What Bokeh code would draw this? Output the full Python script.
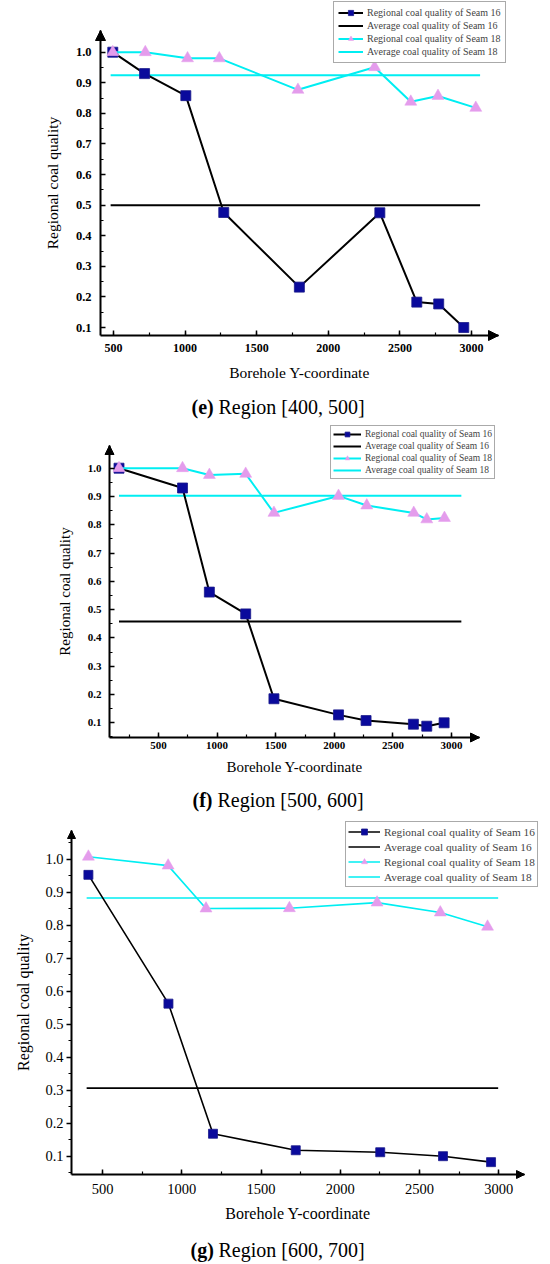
from bokeh.plotting import figure
from bokeh.layouts import column
from bokeh.models import (Range1d, SingleIntervalTicker, PrintfTickFormatter, Legend,
                          LegendItem, Arrow, NormalHead, Label)
from bokeh.embed import file_html
from bokeh.resources import INLINE

# ---------------- data ----------------
# (e) Region [400, 500]
e_s16_x = [495, 717, 1005, 1270, 1798, 2360, 2618, 2771, 2946]
e_s16_y = [1.000, 0.930, 0.858, 0.476, 0.232, 0.475, 0.183, 0.177, 0.100]
e_s18_x = [495, 722, 1017, 1239, 1788, 2323, 2576, 2766, 3030]
e_s18_y = [1.000, 1.000, 0.980, 0.980, 0.877, 0.951, 0.838, 0.857, 0.818]
e_avg16 = 0.500
e_avg18 = 0.925
e_avg_span = [480, 3060]

# (f) Region [500, 600]
f_s16_x = [163, 705, 934, 1244, 1485, 2036, 2271, 2675, 2789, 2937]
f_s16_y = [1.000, 0.930, 0.562, 0.485, 0.185, 0.128, 0.108, 0.095, 0.088, 0.100]
f_s18_x = [163, 705, 934, 1244, 1485, 2036, 2277, 2678, 2789, 2940]
f_s18_y = [1.000, 1.000, 0.976, 0.980, 0.842, 0.902, 0.868, 0.842, 0.819, 0.824]
f_avg16 = 0.458
f_avg18 = 0.903
f_avg_span = [163, 3084]

# (g) Region [600, 700]
g_s16_x = [411, 916, 1197, 1719, 2252, 2648, 2951]
g_s16_y = [0.952, 0.562, 0.168, 0.118, 0.112, 0.100, 0.082]
g_s18_x = [411, 914, 1153, 1679, 2232, 2631, 2929]
g_s18_y = [1.007, 0.980, 0.850, 0.851, 0.868, 0.838, 0.795]
g_avg16 = 0.306
g_avg18 = 0.882
g_avg_span = [400, 2996]

legend_labels = ["Regional coal quality of Seam 16", "Average coal quality of Seam 16",
                 "Regional coal quality of Seam 18", "Average coal quality of Seam 18"]
x_title = "Borehole Y-coordinate"
y_title = "Regional coal quality"
caption_tags = ["(e)", "(f)", "(g)"]
caption_texts = ["Region [400, 500]", "Region [500, 600]", "Region [600, 700]"]

NAVY = "#0a0a9c"
VIOLET = "#e49cec"
CYAN = "#00eef2"
SERIF = "Liberation Serif"
W = 550


def make_panel(cfg):
    T, H = cfg["top"], cfg["height"]
    # pixel anchors -> data ranges (frame covers the whole figure)
    (xa0, xa1) = cfg["xpx"]          # pixel of x=500 and x=3000
    kx = (xa1 - xa0) / 2500.0
    x_start = 500 - xa0 / kx
    x_end = x_start + W / kx
    (ya1, ya0) = cfg["ypx"]          # page pixel of y=1.0 and y=0.1
    ky = (ya0 - ya1) / 0.9
    y_end = 1.0 + (ya1 - T) / ky
    y_start = y_end - H / ky

    def xval(px):
        return x_start + px / kx

    def yval(py):
        return y_end - (py - T) / ky

    p = figure(width=W, height=H, output_backend="svg", toolbar_location=None,
               x_range=Range1d(x_start, x_end), y_range=Range1d(y_start, y_end),
               min_border=0, min_border_left=0, min_border_right=0,
               min_border_top=0, min_border_bottom=0)
    p.outline_line_color = None
    p.xgrid.visible = False
    p.ygrid.visible = False
    p.background_fill_color = "white"
    p.border_fill_color = "white"

    lw = cfg["lw"]
    a16 = p.line(cfg["avg_span"], [cfg["avg16"]] * 2, line_color="black", line_width=lw)
    a18 = p.line(cfg["avg_span"], [cfg["avg18"]] * 2, line_color=CYAN, line_width=lw)
    l16 = p.line(cfg["s16x"], cfg["s16y"], line_color="black", line_width=lw)
    m16 = p.scatter(cfg["s16x"], cfg["s16y"], marker="square", size=cfg["sq"],
                    fill_color=NAVY, line_color="#1a1a8a", line_width=0.8)
    l18 = p.line(cfg["s18x"], cfg["s18y"], line_color=CYAN, line_width=lw)
    m18 = p.scatter(cfg["s18x"], cfg["s18y"], marker="triangle", size=cfg["tri"],
                    fill_color=VIOLET, line_color=VIOLET, line_width=0.5)

    ax_x = xval(cfg["axis_px"][0])     # x where the y axis stands
    ax_y = yval(cfg["axis_px"][1])     # y where the x axis stands
    tip_x = xval(cfg["tip_px"][0])
    tip_y = yval(cfg["tip_px"][1])

    xa = p.xaxis[0]
    ya = p.yaxis[0]
    xa.fixed_location = ax_y
    ya.fixed_location = ax_x
    xa.bounds = (ax_x, tip_x)
    ya.bounds = (ax_y, tip_y)

    for ax in (xa, ya):
        ax.axis_line_width = 2
        ax.axis_line_color = "black"
        ax.major_tick_line_width = 1.5
        ax.minor_tick_line_width = 1.2
        ax.major_label_text_font = SERIF
        ax.major_label_text_font_style = cfg["tick_style"]
        ax.axis_label_text_font = SERIF
        ax.axis_label_text_font_style = "normal"
        ax.axis_label_text_color = "black"
        ax.major_label_text_color = "black"
    xa.ticker = SingleIntervalTicker(interval=500, num_minor_ticks=2)
    ya.ticker = SingleIntervalTicker(interval=0.1, num_minor_ticks=2)
    ya.formatter = PrintfTickFormatter(format="%.1f")
    xa.major_label_text_font_size = cfg["xtick_fs"]
    ya.major_label_text_font_size = cfg["ytick_fs"]
    xa.major_tick_in = 5
    xa.major_tick_out = 0
    xa.minor_tick_in = 3
    xa.minor_tick_out = 0
    if cfg["ytick_out"]:
        ya.major_tick_in = 0
        ya.major_tick_out = 5
        ya.minor_tick_in = 0
        ya.minor_tick_out = 3
    else:
        ya.major_tick_in = 5
        ya.major_tick_out = 0
        ya.minor_tick_in = 3
        ya.minor_tick_out = 0
    xa.major_label_standoff = cfg["x_std"][0]
    xa.axis_label_standoff = cfg["x_std"][1]
    ya.major_label_standoff = cfg["y_std"][0]
    ya.axis_label_standoff = cfg["y_std"][1]
    xa.axis_label = x_title
    ya.axis_label = y_title
    xa.axis_label_text_font_size = cfg["title_fs"]
    ya.axis_label_text_font_size = cfg["title_fs"]

    # arrow heads at the ends of the axes
    hs = cfg["head"]
    p.add_layout(Arrow(end=NormalHead(size=hs, fill_color="black", line_color="black"),
                       x_start=ax_x, y_start=tip_y - 0.01, x_end=ax_x, y_end=tip_y,
                       line_alpha=0))
    p.add_layout(Arrow(end=NormalHead(size=hs, fill_color="black", line_color="black"),
                       x_start=tip_x - 10, y_start=ax_y, x_end=tip_x, y_end=ax_y,
                       line_alpha=0))

    # legend (location = bottom-left corner, px from frame bottom-left)
    items = [LegendItem(label=legend_labels[0], renderers=[l16, m16]),
             LegendItem(label=legend_labels[1], renderers=[a16]),
             LegendItem(label=legend_labels[2], renderers=[l18, m18]),
             LegendItem(label=legend_labels[3], renderers=[a18])]
    lx, lbottom = cfg["leg_px"]
    lg = Legend(items=items, location=(lx, T + H - lbottom), orientation="vertical")
    lg.label_text_font = SERIF
    lg.label_text_font_size = cfg["leg_fs"]
    lg.label_height = cfg["leg_h"]
    lg.glyph_height = cfg["leg_h"]
    lg.glyph_width = cfg["leg_gw"]
    lg.label_standoff = 4
    lg.spacing = 0
    lg.padding = cfg["leg_pad"]
    lg.margin = 0
    lg.border_line_color = "#555555"
    lg.border_line_width = 1
    lg.background_fill_alpha = 1
    p.add_layout(lg)

    # caption below the panel
    cx, cx2, cy = cfg["cap_px"]
    p.add_layout(Label(x=cx, y=T + H - cy, x_units="screen", y_units="screen",
                       text=cfg["tag"], text_font=SERIF, text_font_size=cfg["cap_fs"],
                       text_font_style="bold", text_baseline="middle", text_align="left",
                       text_color="black"))
    p.add_layout(Label(x=cx2, y=T + H - cy, x_units="screen", y_units="screen",
                       text=cfg["cap"], text_font=SERIF, text_font_size=cfg["cap_fs"],
                       text_font_style="normal", text_baseline="middle", text_align="left",
                       text_color="black"))
    return p


cfg_e = dict(top=0, height=422, xpx=(113, 471), ypx=(51.7, 327.0),
             axis_px=(100, 335), tip_px=(498, 30),
             s16x=e_s16_x, s16y=e_s16_y, s18x=e_s18_x, s18y=e_s18_y,
             avg16=e_avg16, avg18=e_avg18, avg_span=e_avg_span, lw=2, sq=10, tri=12,
             tick_style="bold", xtick_fs="12px", ytick_fs="12.5px", ytick_out=False,
             x_std=(8, 9), y_std=(9, 12), title_fs="15.5px", head=10,
             leg_px=(333, 63), leg_fs="10px", leg_h=13, leg_gw=25, leg_pad=4,
             tag=caption_tags[0], cap=caption_texts[0], cap_px=(191, 218, 406),
             cap_fs="20px")
cfg_f = dict(top=422, height=393, xpx=(158, 451), ypx=(467.7, 722.3),
             axis_px=(109, 737), tip_px=(479, 445),
             s16x=f_s16_x, s16y=f_s16_y, s18x=f_s18_x, s18y=f_s18_y,
             avg16=f_avg16, avg18=f_avg18, avg_span=f_avg_span, lw=2, sq=10, tri=12,
             tick_style="bold", xtick_fs="11px", ytick_fs="11px", ytick_out=False,
             x_std=(4, 7), y_std=(8, 12), title_fs="15px", head=9,
             leg_px=(330, 479), leg_fs="9.5px", leg_h=12, leg_gw=28, leg_pad=2,
             tag=caption_tags[1], cap=caption_texts[1], cap_px=(192, 217, 799),
             cap_fs="20px")
cfg_g = dict(top=815, height=449, xpx=(102, 498.3), ypx=(858.5, 1155.7),
             axis_px=(71, 1174), tip_px=(524, 830),
             s16x=g_s16_x, s16y=g_s16_y, s18x=g_s18_x, s18y=g_s18_y,
             avg16=g_avg16, avg18=g_avg18, avg_span=g_avg_span, lw=1.6, sq=9, tri=12,
             tick_style="normal", xtick_fs="14.5px", ytick_fs="14.5px", ytick_out=True,
             x_std=(9, 8), y_std=(3, 10), title_fs="16px", head=8,
             leg_px=(345, 887), leg_fs="11.3px", leg_h=15, leg_gw=32, leg_pad=2,
             tag=caption_tags[2], cap=caption_texts[2], cap_px=(190, 218, 1249),
             cap_fs="20px")

pe = make_panel(cfg_e)
pf = make_panel(cfg_f)
pg = make_panel(cfg_g)

layout = column(pe, pf, pg, spacing=0)
open("out.html", "w").write(file_html(layout, INLINE))
